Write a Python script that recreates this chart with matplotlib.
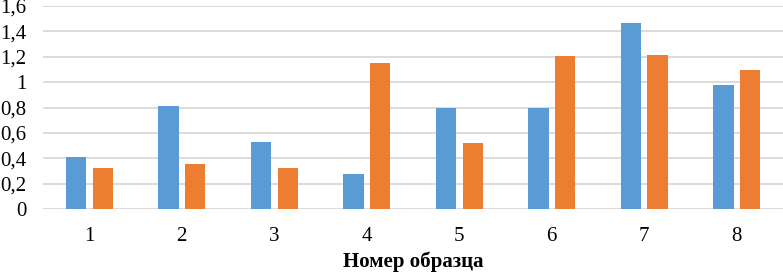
import matplotlib
matplotlib.use("Agg")
import matplotlib.pyplot as plt
import numpy as np

categories = ["1", "2", "3", "4", "5", "6", "7", "8"]
series_blue = [0.41, 0.81, 0.53, 0.28, 0.80, 0.80, 1.47, 0.98]
series_orange = [0.32, 0.355, 0.325, 1.15, 0.52, 1.205, 1.215, 1.095]
yticks = [0, 0.2, 0.4, 0.6, 0.8, 1.0, 1.2, 1.4, 1.6]
ytick_labels = ["0", "0,2", "0,4", "0,6", "0,8", "1", "1,2", "1,4", "1,6"]
xlabel = "Номер образца"

plt.rcParams['font.family'] = ['Liberation Serif', 'DejaVu Serif']

fig = plt.figure(figsize=(7.83, 2.74), dpi=100)
ax = fig.add_axes([0.055, 0.237, 0.945, 0.741])

x = np.arange(len(categories))
w = 0.22
off = 0.145
ax.bar(x - off, series_blue, width=w, color="#5B9BD5", zorder=3)
ax.bar(x + off, series_orange, width=w, color="#ED7D31", zorder=3)

ax.set_xlim(-0.5, len(categories) - 0.5)
ax.set_ylim(0, 1.6)
ax.set_yticks(yticks)
ax.set_yticklabels(ytick_labels)
ax.set_xticks(x)
ax.set_xticklabels(categories)
ax.yaxis.grid(True, color="#D9D9D9", linewidth=1.3, zorder=0)
ax.set_axisbelow(True)
for s in ax.spines.values():
    s.set_visible(False)
ax.tick_params(axis='both', length=0, labelsize=15, colors="#000000")
ax.tick_params(axis='y', pad=12)
ax.tick_params(axis='x', pad=13)
ax.set_xlabel(xlabel, fontsize=15, fontweight='bold', labelpad=4)

fig.savefig("out.png", dpi=100)
